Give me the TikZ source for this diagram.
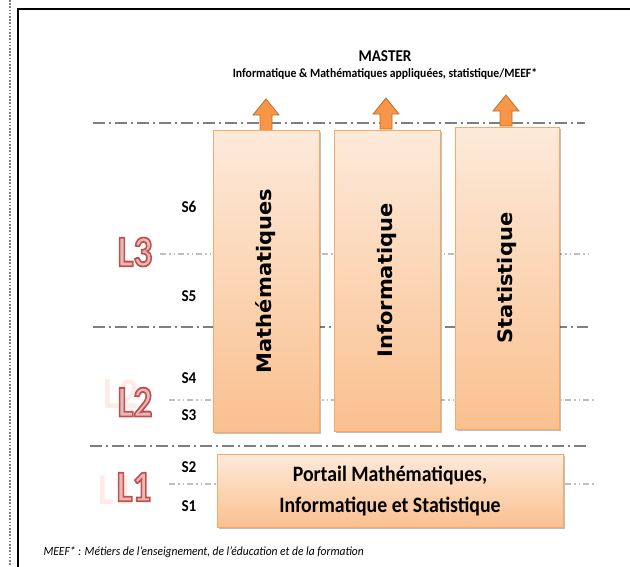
\documentclass[tikz,border=0pt]{standalone}
\usepackage{fontspec}
\usepackage{graphicx}
\usepackage{xcolor}
\usepackage{tikz}
\usetikzlibrary{shadows}
\setmainfont{Carlito}
\newfontfamily\verdfont{DejaVu Sans}

\definecolor{rulegray}{HTML}{7F7F7F}
\definecolor{lightrule}{HTML}{BFBFBF}
\definecolor{boxtop}{HTML}{FDEADA}
\definecolor{boxbottom}{HTML}{FAC08F}
\definecolor{boxline}{HTML}{F5A96B}
\definecolor{arrowfill}{HTML}{F79646}
\definecolor{arrowline}{HTML}{B9702F}
\definecolor{levelred}{HTML}{C0504D}
\definecolor{levelpink}{HTML}{E6B9B8}
\definecolor{ghostpink}{HTML}{FDEBE8}

\newcommand{\squeezex}[1]{\scalebox{0.92}[1]{#1}}
\newcommand{\squeezey}[1]{\scalebox{1}[0.95]{#1}}
% outlined letters: fill pink, stroke red
\newcommand{\levellabel}[1]{\scalebox{0.85}[1]{\color{levelpink}\special{pdf:literal direct 0.753 0.314 0.302 RG 1.8 w 2 Tr}#1\special{pdf:literal direct 0 Tr}}}

\begin{document}
\begin{tikzpicture}[x=1pt, y=-1pt,
    thickrule/.style={draw=rulegray, line width=2.2pt, dash pattern=on 12pt off 4pt on 2pt off 4pt},
    thinrule/.style={draw=lightrule, line width=1.2pt, dash pattern=on 6pt off 3pt on 1.5pt off 3pt on 1.5pt off 3pt},
    subjbox/.style={rectangle, draw=boxline, line width=0.8pt, top color=boxtop, bottom color=boxbottom, inner sep=0pt,
        drop shadow={shadow xshift=1.5pt, shadow yshift=-1.5pt, opacity=0.25, fill=black}},
    uparrow/.style={fill=arrowfill, draw=arrowline, line width=0.8pt, line join=miter},
    sem/.style={font=\fontsize{16.5}{16.5}\selectfont\bfseries},
    level/.style={font=\fontsize{44}{44}\selectfont\bfseries},
    ghost/.style={font=\fontsize{44}{44}\selectfont\bfseries, text=ghostpink},
    subj/.style={font=\verdfont\fontsize{21}{21}\selectfont\bfseries, rotate=90}]

        \useasboundingbox (0,0) rectangle (630,566);

        % frame and margin
        \draw[draw=gray, line width=1.6pt, dash pattern=on 1.6pt off 1.6pt] (10,0) -- (10,566);
        \draw[line width=2.5pt] (18,570) -- (18,9) -- (640,9);

        % semester and year rules
        \coordinate(topW) at (93, 123);
        \coordinate(topE) at (585, 123);
        \coordinate(l3W) at (160, 254);
        \coordinate(l3E) at (590, 254);
        \coordinate(midW) at (93, 327);
        \coordinate(midE) at (588, 327);
        \coordinate(l2W) at (169, 400);
        \coordinate(l2E) at (595, 400);
        \coordinate(lowW) at (90, 446);
        \coordinate(lowE) at (587, 446);
        \coordinate(l1W) at (169, 484);
        \coordinate(l1E) at (595, 484);
        \draw[thickrule] (topW) -- (topE);
        \draw[thinrule] (l3W) -- (l3E);
        \draw[thickrule] (midW) -- (midE);
        \draw[thinrule] (l2W) -- (l2E);
        \draw[thickrule] (lowW) -- (lowE);
        \draw[thinrule] (l1W) -- (l1E);

        % arrows to the master
        \coordinate(tipM) at (266, 99);
        \coordinate(tipI) at (386, 98);
        \coordinate(tipS) at (506, 95);
        \draw[uparrow] (tipM) -- ++(13,16) -- ++(-7,0) -- ++(0,16) -- ++(-12,0) -- ++(0,-16) -- ++(-7,0) -- cycle;
        \draw[uparrow] (tipI) -- ++(13,16) -- ++(-7,0) -- ++(0,15) -- ++(-12,0) -- ++(0,-15) -- ++(-7,0) -- cycle;
        \draw[uparrow] (tipS) -- ++(13,16) -- ++(-7,0) -- ++(0,15) -- ++(-12,0) -- ++(0,-15) -- ++(-7,0) -- cycle;

        % boxes
        \node[subjbox, minimum width=106pt, minimum height=302pt] (mathbox) at (266, 281) {};
        \node[subjbox, minimum width=106pt, minimum height=301pt] (infobox) at (387, 280.5) {};
        \node[subjbox, minimum width=104pt, minimum height=302pt] (statbox) at (507, 278) {};
        \node[subjbox, minimum width=346pt, minimum height=73pt] (portailbox) at (390, 490.5) {};

        \node[subj] (mathlabel) at (mathbox.center) {\squeezey{Mathématiques}};
        \node[subj] (infolabel) at (infobox.center) {\squeezey{Informatique}};
        \node[subj] (statlabel) at (statbox.center) {\squeezey{Statistique}};
        \node[font=\fontsize{22}{31}\selectfont\bfseries, align=center] (portaillabel) at (portailbox.center)
            {\scalebox{0.9}[1]{Portail Mathématiques,}\\\scalebox{0.9}[1]{Informatique et Statistique}};

        % master
        \node[font=\fontsize{16.5}{16.5}\selectfont\bfseries] (master) at (385, 56) {\squeezex{MASTER}};
        \node[font=\fontsize{12.7}{12.7}\selectfont\bfseries] (masterlist) at (385, 74)
            {\squeezex{Informatique \& Mathématiques appliquées, statistique/MEEF*}};

        % semesters
        \node[sem] (s6) at (189, 207) {\squeezex{S6}};
        \node[sem] (s5) at (189, 296) {\squeezex{S5}};
        \node[sem] (s4) at (189, 378) {\squeezex{S4}};
        \node[sem] (s3) at (189, 415) {\squeezex{S3}};
        \node[sem] (s2) at (189, 467) {\squeezex{S2}};
        \node[sem] (s1) at (189, 506) {\squeezex{S1}};

        % years
        \node[ghost] (l2ghost) at (121, 394) {\scalebox{0.85}[1]{L2}};
        \node[ghost] (l1ghost) at (116, 490) {\scalebox{0.85}[1]{L1}};
        \node[level] (l3) at (135, 252) {\levellabel{L3}};
        \node[level] (l2) at (135, 402) {\levellabel{L2}};
        \node[level] (l1) at (134, 487) {\levellabel{L1}};

        \node[anchor=west, font=\fontsize{12.5}{12.5}\selectfont\itshape] (meef) at (40, 552)
            {\squeezex{MEEF* : Métiers de l’enseignement, de l’éducation et de la formation}};

    \end{tikzpicture}
\end{document}
